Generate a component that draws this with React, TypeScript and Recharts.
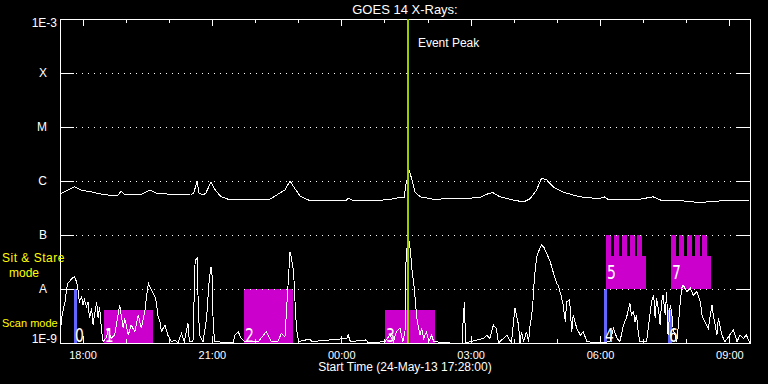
import React from "react";
import {
  ComposedChart,
  Line,
  XAxis,
  YAxis,
  ReferenceArea,
  ReferenceLine,
} from "recharts";

// time axis: minutes after the start time (17:28:00 UT)
const START_LABEL = "Start Time (24-May-13 17:28:00)";
const TIME_SPAN = 960;
const hourTicks = [32, 92, 152, 212, 272, 332, 392, 452, 512, 572, 632, 692, 752, 812, 872, 932];
const majorTicks = [32, 212, 392, 572, 752, 932];
const majorLabels = ["18:00", "21:00", "00:00", "03:00", "06:00", "09:00"];

// flux axis (W/m^2), log scale
const fluxLevels = [1e-9, 1e-8, 1e-7, 1e-6, 1e-5, 1e-4, 1e-3];
const levelLabels = ["1E-9", "A", "B", "C", "M", "X", "1E-3"];
const gridLevels = [1e-8, 1e-7, 1e-6, 1e-5, 1e-4];

const EVENT_PEAK = 484; // 01:32

// 1-8 A channel [minute, flux]
const longChannel: [number, number][] = [
  [1, 5.8e-7], [11, 6.8e-7], [20, 7.8e-7], [29, 6.8e-7], [43, 6.3e-7], [57, 5.75e-7],
  [67, 5.5e-7], [81, 5.5e-7], [85, 6.5e-7], [89, 5.7e-7], [111, 5.5e-7], [125, 6.8e-7],
  [135, 5.9e-7], [153, 5.7e-7], [182, 5.5e-7], [186, 6.0e-7], [191, 1.0e-6], [193, 6.0e-7],
  [199, 5.5e-7], [203, 6.0e-7], [210, 9.5e-7], [216, 6.8e-7], [224, 5.1e-7], [234, 4.6e-7],
  [266, 4.45e-7], [292, 4.6e-7], [306, 6.0e-7], [313, 6.8e-7], [320, 1.0e-6], [326, 7.5e-7],
  [334, 5.3e-7], [345, 4.45e-7], [397, 4.27e-7], [401, 4.8e-7], [406, 4.45e-7], [438, 4.3e-7],
  [461, 4.6e-7], [470, 4.9e-7], [479, 4.9e-7], [481, 8.4e-7], [486, 1.6e-6], [489, 1.12e-6],
  [494, 6.3e-7], [501, 5.1e-7], [519, 4.6e-7], [547, 4.7e-7], [584, 4.9e-7], [594, 5.7e-7],
  [602, 6.1e-7], [612, 5.1e-7], [630, 4.45e-7], [645, 4.1e-7], [654, 4.7e-7], [663, 6.8e-7],
  [670, 1.12e-6], [677, 1.05e-6], [686, 7.8e-7], [700, 6.2e-7], [723, 5.1e-7], [751, 4.7e-7],
  [757, 5.1e-7], [762, 4.6e-7], [775, 4.45e-7], [807, 4.6e-7], [825, 5.1e-7], [835, 4.45e-7],
  [867, 4.27e-7], [890, 4.0e-7], [918, 4.27e-7], [958, 4.3e-7],
];

// 0.5-4 A channel [minute, flux]
const shortChannel: [number, number][] = [
  [1, 1.87e-9], [3, 3.3e-9], [7, 5.8e-9], [9, 9.6e-9], [11, 1.27e-8], [16, 1.53e-8], [20, 1.7e-8],
  [23, 1.37e-8], [25, 9.6e-9], [27, 5.8e-9], [30, 7.2e-9], [32, 5.1e-9], [34, 6.3e-9], [37, 4.7e-9],
  [39, 5.8e-9], [41, 2.9e-9], [44, 4.4e-9], [46, 2.15e-9], [48, 3.3e-9], [51, 5.8e-9], [53, 2.9e-9],
  [55, 4.7e-9], [58, 1.62e-9], [60, 1.06e-9], [65, 1.3e-9], [67, 1.87e-9], [71, 1.22e-9], [76, 1.4e-9],
  [83, 5.1e-9], [88, 1.87e-9], [90, 2.9e-9], [95, 1.4e-9], [99, 2.15e-9], [104, 1.62e-9], [109, 3.3e-9],
  [113, 1.87e-9], [118, 3.8e-9], [120, 6.7e-9], [123, 1.27e-8], [127, 9.6e-9], [132, 7.2e-9],
  [134, 5.8e-9], [136, 3.3e-9], [139, 2.5e-9], [141, 1.62e-9], [146, 2.15e-9], [150, 1.4e-9],
  [155, 1.06e-9], [160, 1.14e-9], [164, 1.0e-9], [169, 1.5e-9], [173, 1.06e-9], [178, 2.3e-9],
  [180, 1.06e-9], [185, 1.06e-9], [188, 3.4e-8], [191, 3.7e-8], [192, 7.7e-9], [194, 1.4e-9],
  [199, 1.06e-9], [204, 2.9e-9], [207, 1.19e-8], [210, 2.6e-8], [212, 1.6e-8], [213, 2.5e-9],
  [215, 1.06e-9], [241, 1.0e-9], [243, 1.4e-9], [248, 1.62e-9], [252, 1.22e-9], [257, 1.06e-9],
  [276, 1.06e-9], [287, 1.62e-9], [294, 1.06e-9], [303, 1.06e-9], [308, 1.5e-9], [313, 1.3e-9],
  [317, 1.03e-8], [320, 4.9e-8], [322, 3.7e-8], [325, 2.1e-8], [327, 5.8e-9], [329, 1.87e-9],
  [332, 1.06e-9], [348, 1.19e-9], [350, 1.06e-9], [399, 1.22e-9], [401, 1.4e-9], [404, 1.06e-9],
  [426, 1.14e-9], [429, 1.0e-9], [452, 1.06e-9], [459, 1.4e-9], [464, 1.06e-9], [468, 1.62e-9],
  [473, 1.87e-9], [477, 1.06e-9], [480, 1.62e-9], [481, 2.6e-8], [484, 9.5e-8], [486, 7.5e-8],
  [488, 4.3e-8], [490, 2.1e-8], [493, 1.03e-8], [495, 4.7e-9], [497, 2.5e-9], [501, 1.4e-9],
  [503, 1.87e-9], [506, 1.22e-9], [510, 1.62e-9], [513, 1.06e-9], [517, 1.4e-9], [520, 1.06e-9],
  [543, 1.0e-9], [560, 1.0e-9], [561, 3.3e-9], [563, 5.8e-9], [564, 1.0e-9], [589, 1.22e-9],
  [594, 1.4e-9], [598, 1.22e-9], [603, 2.15e-9], [607, 1.87e-9], [610, 1.0e-9], [622, 1.4e-9],
  [628, 1.0e-9], [633, 4.4e-9], [635, 3.3e-9], [638, 2.15e-9], [640, 1.0e-9], [642, 1.62e-9],
  [645, 1.06e-9], [649, 1.62e-9], [652, 1.06e-9], [654, 2.15e-9], [656, 2.9e-9], [658, 5.8e-9],
  [660, 1.6e-8], [662, 2.8e-8], [664, 4.3e-8], [668, 5.8e-8], [670, 6.5e-8], [673, 6.0e-8],
  [677, 4.6e-8], [682, 3.2e-8], [686, 2.1e-8], [691, 1.27e-8], [693, 1.19e-8], [697, 7.7e-9],
  [700, 5.1e-9], [703, 2.5e-9], [705, 5.8e-9], [709, 6.3e-9], [712, 1.62e-9], [714, 3.3e-9],
  [719, 1.87e-9], [724, 1.4e-9], [728, 1.62e-9], [733, 1.06e-9], [751, 1.0e-9], [765, 1.06e-9],
  [770, 1.87e-9], [775, 1.22e-9], [779, 1.06e-9], [784, 2.15e-9], [788, 2.9e-9], [793, 5.4e-9],
  [795, 3.3e-9], [798, 3.8e-9], [800, 2.5e-9], [802, 3.3e-9], [805, 1.4e-9], [807, 1.06e-9],
  [816, 1.06e-9], [823, 5.8e-9], [826, 7.7e-9], [828, 2.9e-9], [830, 6.7e-9], [833, 3.8e-9],
  [835, 2.15e-9], [837, 5.8e-9], [839, 7.7e-9], [842, 3.3e-9], [844, 8.9e-9], [846, 1.4e-9],
  [849, 5.1e-9], [851, 3.8e-9], [853, 1.87e-9], [858, 1.06e-9], [860, 1.87e-9], [863, 5.8e-9],
  [865, 1.03e-8], [867, 1.19e-8], [872, 8.9e-9], [877, 1.03e-8], [881, 7.7e-9], [886, 8.9e-9],
  [891, 5.8e-9], [893, 3.3e-9], [897, 2.5e-9], [902, 1.87e-9], [907, 5.1e-9], [909, 3.3e-9],
  [914, 1.4e-9], [916, 2.9e-9], [918, 2.15e-9], [921, 1.4e-9], [925, 1.06e-9], [937, 1.74e-9],
  [942, 1.06e-9], [946, 1.4e-9], [951, 1.22e-9], [955, 1.4e-9], [960, 1.0e-9],
];

// scan mode rasters (magenta) and sit & stare (blue)
const scanBoxes = [
  { id: "1", start: 61, end: 129, top: 4.1e-9 },
  { id: "2", start: 256, end: 324, top: 1e-8 },
  { id: "3", start: 452, end: 522, top: 4.1e-9 },
];
const stareBars = [
  { id: "0", start: 19.5, end: 23.7, top: 1e-8 },
  { id: "4", start: 757, end: 761, top: 1e-8 },
  { id: "6", start: 846, end: 851.4, top: 4.1e-9 },
];
const combBoxes = [
  { id: "5", start: 759.6, end: 815.3, teeth: [[759.6, 766.6], [770.8, 777.8], [781.9, 788.9], [793, 800], [802.8, 809.7]] },
  { id: "7", start: 850.1, end: 905.7, teeth: [[850.1, 857.1], [861.2, 868.2], [872.4, 879.3], [883.5, 890.5], [893.2, 900.2]] },
];
const COMB_BASE = 1e-8;
const COMB_BODY = 4.1e-8;
const COMB_TOP = 1e-7;

const MAGENTA = "#cc00cc";
const BLUE = "#6464ff";
const PEAK_GREEN = "#9acd00";
const FONT = "'Liberation Sans', Arial, sans-serif";

const longData = longChannel.map(([t, flux]) => ({ t, flux }));
const shortData = shortChannel.map(([t, flux]) => ({ t, flux }));

// shift a flux value by some pixels on the 54 px/decade axis
const shift = (v: number, px: number) => v * Math.pow(10, px / 54);
const pxToMin = (px: number) => (px * TIME_SPAN) / 690;

function YTick(props: any) {
  const { x, y, payload } = props;
  const idx = fluxLevels.findIndex((v) => Math.abs(Math.log10(v) - Math.log10(payload.value)) < 1e-6);
  const label = levelLabels[idx] ?? "";
  const numeric = label.startsWith("1E");
  let dy = 4;
  if (idx === 0) dy = 0;
  if (idx === fluxLevels.length - 1) dy = 8;
  return (
    <text x={numeric ? x + 5 : x - 5} y={y + dy} textAnchor="end" fill="#fff" fontSize={12} fontFamily={FONT}>
      {label}
    </text>
  );
}

function XTick(props: any) {
  const { x, y, payload } = props;
  const idx = majorTicks.indexOf(payload.value);
  return (
    <text x={x} y={y + 8} textAnchor="middle" fill="#fff" fontSize={11} fontFamily={FONT}>
      {majorLabels[idx] ?? ""}
    </text>
  );
}

function BoxNumber(props: any) {
  const { viewBox, text, middle } = props;
  if (!viewBox) return null;
  const x = viewBox.x + 1;
  const y = middle ? viewBox.y + viewBox.height / 2 + 7 : viewBox.y + viewBox.height - 1;
  return (
    <text
      transform={`translate(${x},${y}) scale(0.7,1)`}
      fill="#ffffff"
      fontSize={20}
      fontFamily="'DejaVu Sans', sans-serif"
    >
      {text}
    </text>
  );
}

function PeakLabel(props: any) {
  const { viewBox } = props;
  if (!viewBox) return null;
  return (
    <text x={viewBox.x + 10} y={viewBox.y + 28} fill="#fff" fontSize={12} fontFamily={FONT}>
      Event Peak
    </text>
  );
}

export default function App() {
  return (
    <div
      style={{
        position: "absolute",
        left: 0,
        top: 0,
        width: 768,
        height: 384,
        background: "#000",
        fontFamily: FONT,
        shapeRendering: "crispEdges",
      }}
    >
      <ComposedChart width={768} height={384} margin={{ top: 19, right: 18, bottom: 0, left: 0 }}>
        <XAxis
          dataKey="t"
          type="number"
          domain={[0, TIME_SPAN]}
          ticks={majorTicks}
          interval={0}
          allowDataOverflow
          axisLine={false}
          tickLine={false}
          height={41}
          tick={<XTick />}
          label={{ value: START_LABEL, position: "insideBottom", offset: 13, fill: "#fff", fontSize: 12 }}
        />
        <YAxis
          type="number"
          scale="log"
          domain={[1e-9, 1e-3]}
          ticks={fluxLevels}
          interval={0}
          allowDataOverflow
          axisLine={false}
          tickLine={false}
          width={60}
          tick={<YTick />}
        />

        {/* dotted GOES class levels, with solid ticks on both sides */}
        {gridLevels.map((lvl) => (
          <ReferenceLine
            key={`g${lvl}`}
            segment={[{ x: pxToMin(16), y: lvl }, { x: TIME_SPAN - pxToMin(15), y: lvl }]}
            stroke="#fff"
            strokeDasharray="1 5"
          />
        ))}
        {gridLevels.map((lvl) => (
          <ReferenceLine key={`l${lvl}`} segment={[{ x: 0, y: lvl }, { x: pxToMin(14), y: lvl }]} stroke="#fff" />
        ))}
        {gridLevels.map((lvl) => (
          <ReferenceLine
            key={`r${lvl}`}
            segment={[{ x: TIME_SPAN - pxToMin(14), y: lvl }, { x: TIME_SPAN, y: lvl }]}
            stroke="#fff"
          />
        ))}

        {/* hour ticks on top and bottom edges */}
        {hourTicks.map((t) => {
          const len = majorTicks.includes(t) ? 7 : 4;
          return (
            <ReferenceLine
              key={`tt${t}`}
              segment={[{ x: t, y: 1e-3 }, { x: t, y: shift(1e-3, -len) }]}
              stroke="#fff"
            />
          );
        })}
        {hourTicks.map((t) => {
          const len = majorTicks.includes(t) ? 7 : 4;
          return (
            <ReferenceLine
              key={`bt${t}`}
              segment={[{ x: t, y: 1e-9 }, { x: t, y: shift(1e-9, len) }]}
              stroke="#fff"
            />
          );
        })}

        {scanBoxes.map((b) => (
          <ReferenceArea
            key={`s${b.id}`}
            x1={b.start}
            x2={b.end}
            y1={1e-9}
            y2={b.top}
            fill={MAGENTA}
            fillOpacity={1}
            stroke="none"
            label={<BoxNumber text={b.id} />}
          />
        ))}
        {combBoxes.map((b) => (
          <ReferenceArea
            key={`c${b.id}`}
            x1={b.start}
            x2={b.end}
            y1={COMB_BASE}
            y2={COMB_BODY}
            fill={MAGENTA}
            fillOpacity={1}
            stroke="none"
            label={<BoxNumber text={b.id} middle />}
          />
        ))}
        {combBoxes.flatMap((b) =>
          b.teeth.map(([a, e], i) => (
            <ReferenceArea
              key={`c${b.id}-${i}`}
              x1={a}
              x2={e}
              y1={COMB_BODY}
              y2={COMB_TOP}
              fill={MAGENTA}
              fillOpacity={1}
              stroke="none"
            />
          ))
        )}
        {stareBars.map((b) => (
          <ReferenceArea
            key={`b${b.id}`}
            x1={b.start}
            x2={b.end}
            y1={1e-9}
            y2={b.top}
            fill={BLUE}
            fillOpacity={1}
            stroke="none"
            label={<BoxNumber text={b.id} />}
          />
        ))}

        <Line
          data={longData}
          dataKey="flux"
          type="linear"
          stroke="#fff"
          strokeWidth={1}
          dot={false}
          activeDot={false}
          isAnimationActive={false}
        />
        <Line
          data={shortData}
          dataKey="flux"
          type="linear"
          stroke="#fff"
          strokeWidth={1}
          dot={false}
          activeDot={false}
          isAnimationActive={false}
        />

        <ReferenceLine x={EVENT_PEAK} stroke={PEAK_GREEN} strokeWidth={2} label={<PeakLabel />} />

        {/* plot frame */}
        <ReferenceArea x1={0} x2={TIME_SPAN} y1={1e-9} y2={1e-3} fill="none" stroke="#fff" strokeWidth={1} />
      </ComposedChart>

      <svg
        width={768}
        height={384}
        style={{ position: "absolute", left: 0, top: 0, pointerEvents: "none" }}
      >
        <text x={405} y={14} textAnchor="middle" fill="#fff" fontSize={13} fontFamily={FONT}>
          GOES 14 X-Rays:
        </text>
        <text x={2} y={262} fill="#ffff00" fontSize={12} letterSpacing={0.5} fontFamily={FONT}>
          Sit &amp; Stare
        </text>
        <text x={24} y={277} textAnchor="middle" fill="#ffff00" fontSize={12} fontFamily={FONT}>
          mode
        </text>
        <text x={2} y={327} fill="#ffff00" fontSize={11} fontFamily={FONT}>
          Scan mode
        </text>
      </svg>
    </div>
  );
}
